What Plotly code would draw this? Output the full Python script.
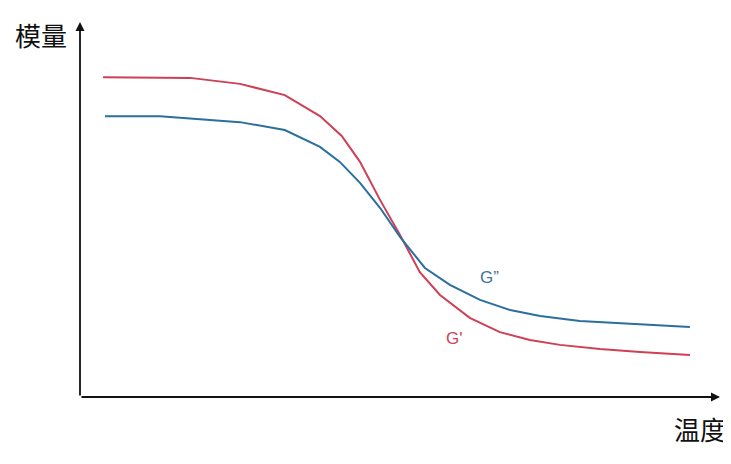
import plotly.graph_objects as go

# Temperature (arbitrary units, 0-100) and modulus (arbitrary units, 0-100)
temp_gp = [3.6, 17.2, 25, 32, 37.5, 40.9, 43.75, 46.9, 50, 53.1, 56.25, 60.9, 65.6, 70.3, 75, 81.25, 87.5, 95.3]
mod_gp = [85.3, 85.1, 83.5, 80.5, 74.9, 69.6, 62.7, 52.5, 43.2, 33.3, 27.2, 21.1, 17.3, 15.2, 13.9, 12.8, 12.0, 11.2]

temp_gpp = [3.9, 12.5, 25, 32, 37.5, 40.6, 43.75, 46.9, 50, 53.9, 57.8, 62.5, 67.2, 71.9, 78.1, 87.5, 95.3]
mod_gpp = [74.9, 74.9, 73.3, 71.2, 66.7, 62.7, 57.1, 50.4, 42.7, 34.4, 29.9, 25.9, 23.2, 21.6, 20.3, 19.5, 18.7]

series_names = ["G'", "G\u201d"]
axis_titles = ["温度", "模量"]

red = "#cf3f55"
blue = "#2a6f9e"

# page body has 8px margin; the figure is sized to fit inside the window
W, H = 723, 456
l, r, t, b = 72, 11, 14, 67
pw, ph = W - l - r, H - t - b

def px(xp, yp):
    # figure-pixel position -> paper coordinates
    return (xp - l) / pw, (H - b - yp) / ph

fig = go.Figure()
fig.add_trace(go.Scatter(x=temp_gp, y=mod_gp, mode="lines", name=series_names[0],
                         line=dict(color=red, width=2)))
fig.add_trace(go.Scatter(x=temp_gpp, y=mod_gpp, mode="lines", name=series_names[1],
                         line=dict(color=blue, width=2)))

cjk = "Noto Sans CJK SC"
xl, yl = px(692, 420)
xm, ym = px(33, 27)
fig.update_layout(
    width=W, height=H,
    margin=dict(l=l, r=r, t=t, b=b),
    paper_bgcolor="white", plot_bgcolor="white",
    showlegend=False,
    xaxis=dict(range=[0, 100], visible=False, fixedrange=True),
    yaxis=dict(range=[0, 100], visible=False, fixedrange=True),
    annotations=[
        # axis arrows
        dict(x=100, y=0, ax=0, ay=0, xref="x", yref="y", axref="x", ayref="y",
             showarrow=True, arrowhead=2, arrowsize=1, arrowwidth=1.8, arrowcolor="#111", text=""),
        dict(x=0, y=100, ax=0, ay=0, xref="x", yref="y", axref="x", ayref="y",
             showarrow=True, arrowhead=2, arrowsize=1, arrowwidth=1.8, arrowcolor="#111", text=""),
        # axis labels
        dict(x=xl, y=yl, xref="paper", yref="paper", text=axis_titles[0], showarrow=False,
             xanchor="center", yanchor="middle",
             font=dict(family=cjk, size=26, color="#111")),
        dict(x=xm, y=ym, xref="paper", yref="paper", text=axis_titles[1], showarrow=False,
             xanchor="center", yanchor="middle",
             font=dict(family=cjk, size=26, color="#111")),
        # series labels
        dict(x=64, y=32, xref="x", yref="y", text=series_names[1], showarrow=False,
             font=dict(family="Liberation Sans", size=17, color="#3f7399")),
        dict(x=58.5, y=15.5, xref="x", yref="y", text=series_names[0], showarrow=False,
             font=dict(family="Liberation Sans", size=17, color=red)),
    ],
)

fig.write_html("out.html")
